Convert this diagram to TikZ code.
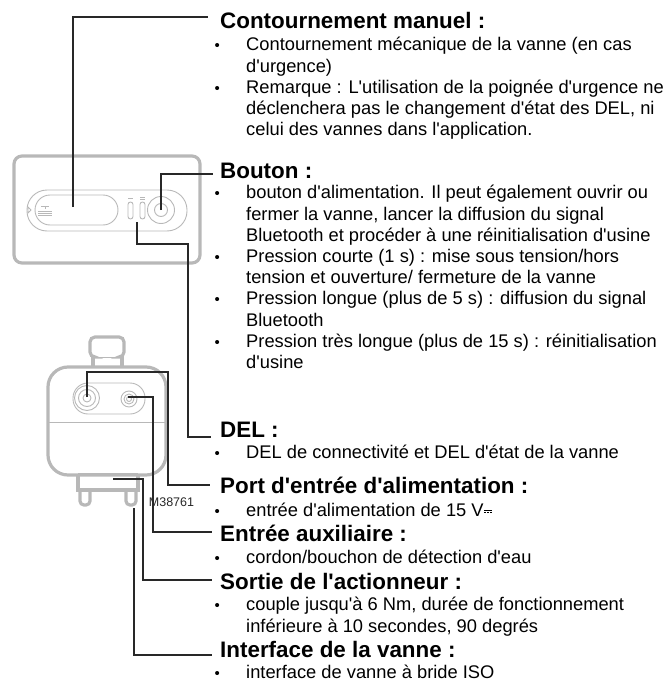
\documentclass[tikz,border=0pt]{standalone}
\usepackage{fontspec}
\usepackage{xcolor}
\setmainfont{Liberation Sans}[Ligatures=TeXOff]
\usetikzlibrary{calc,positioning}
\definecolor{devgray}{RGB}{184,184,184}
\definecolor{leadgray}{RGB}{40,40,40}
\newcommand{\bul}{\llap{{\fontsize{15}{15}\selectfont\textbullet}\hspace{26.4pt}}}
\newcommand{\dcmark}{\hspace{0.6pt}\rlap{\rule[5.4pt]{8pt}{0.8pt}}\rule[3.2pt]{2.2pt}{0.8pt}\hspace{0.7pt}\rule[3.2pt]{2.2pt}{0.8pt}\hspace{0.7pt}\rule[3.2pt]{2.2pt}{0.8pt}}
\tikzset{
  heading/.style={anchor=west,inner xsep=7pt,inner ysep=0pt,text height=16pt,text depth=0pt,font=\fontsize{22.4}{24}\selectfont\bfseries},
  body/.style={align=left,inner sep=0pt,font=\fontsize{18.3}{21.2}\selectfont,execute at begin node=\strut},
  leader/.style={leadgray,line width=1.1pt},
  shell/.style={devgray,line width=3.2pt},
  thin/.style={devgray,line width=0.9pt}
}
\begin{document}
\begin{tikzpicture}[x=1pt,y=-1pt]
    \useasboundingbox (0,0) rectangle (670,682);
    % upper view
    \draw[shell,rounded corners=8pt] (14,156) rectangle (200,263);
    \draw[thin,rounded corners=20pt] (27,190) rectangle (187,231);
    \draw[thin,rounded corners=15pt] (35,195) rectangle (118,225);
    \draw[thin,rounded corners=2.5pt] (128,202) rectangle (133,219);
    \draw[thin,rounded corners=2.5pt] (140,202) rectangle (145,219);
    \draw[thin] (161,210) circle (13.5) (161,210) circle (6.5);
    \draw[thin] (28,207) -- (31,210) -- (28,213) -- cycle;
    \draw[thin] (38,211) -- (52,211) (38,213) -- (52,213) (38,215) -- (52,215) (41,206) -- (49,206) (45,206) -- (45,209);
    \draw[thin] (140,197) -- (145,197) (140,199) -- (145,199) (128,198) -- (133,198);
    % lower view
    \draw[shell,rounded corners=5pt] (93,357) -- (90,357) -- (90,337) -- (124,337) -- (124,357) -- (121,357);
    \draw[shell] (93,357) -- (93,366) (122,357) -- (122,366);
    \draw[thin] (93,357) -- (122,357);
    \draw[shell,rounded corners=20pt] (48,367) rectangle (166,475);
    \draw[thin] (49,422) -- (165,422);
    \draw[thin,rounded corners=15pt] (73,383) rectangle (145,414);
    \draw[thin] (87,398) circle (12.5) (87,398) circle (8.5) (87,398) circle (4);
    \draw[thin] (129,399) circle (8) (129,399) circle (5) (129,399) circle (2.5);
    \draw[shell] (78,476) -- (78,490) (138,476) -- (138,490) (76,490) -- (140,490);
    \draw[thin] (78,473) -- (138,473);
    \draw[shell,rounded corners=4pt] (80,490) -- (80,505) -- (90,505) -- (90,490);
    \draw[shell,rounded corners=4pt] (126,490) -- (126,505) -- (136,505) -- (136,490);
    % anchor points on the device
    \coordinate (bypass) at (73,207);
    \coordinate (button) at (161,210);
    \coordinate (led) at (137,222);
    \coordinate (power) at (87,397);
    \coordinate (aux) at (128,397);
    \coordinate (output) at (113,479);
    \coordinate (flange) at (134,508);
    % labels
    \node[heading] (h1) at (213,21) {Contournement manuel :};
    \node[body,below right=8pt and 33pt of h1.south west] (b1) {\bul Contournement mécanique de la vanne (en cas\\d'urgence)\\\bul Remarque : L'utilisation de la poignée d'urgence ne\\déclenchera pas le changement d'état des DEL, ni\\celui des vannes dans l'application.};
    \node[heading] (h2) at (213,170) {Bouton :};
    \node[body,below right=7pt and 33pt of h2.south west] (b2) {\bul bouton d'alimentation. Il peut également ouvrir ou\\fermer la vanne, lancer la diffusion du signal\\Bluetooth et procéder à une réinitialisation d'usine\\\bul Pression courte (1 s) : mise sous tension/hors\\tension et ouverture/ fermeture de la vanne\\\bul Pression longue (plus de 5 s) : diffusion du signal\\Bluetooth\\\bul Pression très longue (plus de 15 s) : réinitialisation\\d'usine};
    \node[heading] (h3) at (213,429) {DEL :};
    \node[body,below right=6pt and 33pt of h3.south west] (b3) {\bul DEL de connectivité et DEL d'état de la vanne};
    \node[heading] (h4) at (213,485) {Port d'entrée d'alimentation :};
    \node[body,below right=8pt and 33pt of h4.south west] (b4) {\bul entrée d'alimentation de 15 V\dcmark};
    \node[heading] (h5) at (213,533) {Entrée auxiliaire :};
    \node[body,below right=7pt and 33pt of h5.south west] (b5) {\bul cordon/bouchon de détection d'eau};
    \node[heading] (h6) at (213,581) {Sortie de l'actionneur :};
    \node[body,below right=8pt and 33pt of h6.south west] (b6) {\bul couple jusqu'à 6 Nm, durée de fonctionnement\\inférieure à 10 secondes, 90 degrés};
    \node[heading] (h7) at (213,649) {Interface de la vanne :};
    \node[body,below right=6pt and 33pt of h7.south west] (b7) {\bul interface de vanne à bride ISO};
    \node[font=\fontsize{12.5}{14}\selectfont,text=leadgray,inner sep=0pt] (code) at (171.5,502) {M38761};
    % leaders
    \draw[leader] (bypass) |- ($(h1.west)+(-5,-4)$);
    \draw[leader] (button) |- ($(h2.west)+(0,4)$);
    \draw[leader] (led) -- ++(0,22) -| (188,437) -- ($(h3.west)+(-2,8)$);
    \draw[leader] (power) -- ++(0,-25) -| (168,485) -- ($(h4.west)+(-3,0)$);
    \draw[leader] (aux) -| (153,532) -- ($(h5.west)+(-1,-1)$);
    \draw[leader] (output) -| (143,580) -- ($(h6.west)+(-1,-1)$);
    \draw[leader] (flange) |- ($(h7.west)+(-1,6)$);
\end{tikzpicture}
\end{document}
